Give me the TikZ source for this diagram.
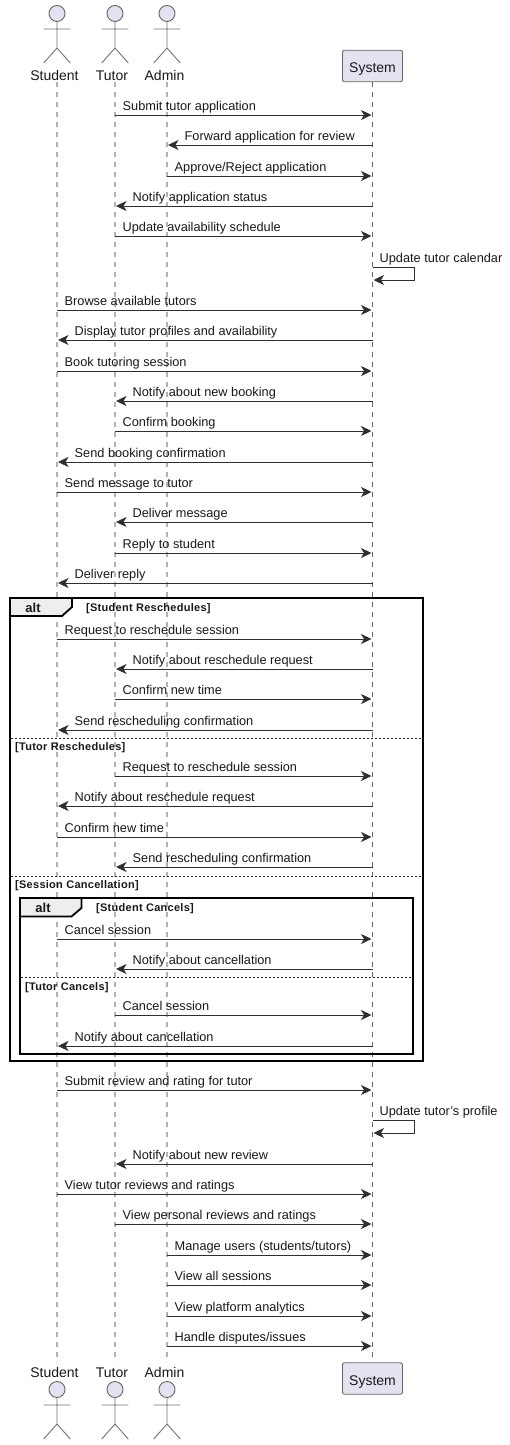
\documentclass[tikz,border=0pt]{standalone}
\usepackage{fontspec}
\setmainfont{Liberation Sans}
\usetikzlibrary{arrows.meta}
\definecolor{ink}{HTML}{181818}
\definecolor{actorfill}{HTML}{E2E2F0}
\definecolor{tabfill}{HTML}{EEEEEE}
\tikzset{
  life/.style={draw=black!30,line width=1.2pt,dash pattern=on 5pt off 5pt},
  lifesys/.style={draw=black!60,line width=0.8pt,dash pattern=on 5pt off 5pt},
  msgline/.style={draw=ink!90,line width=0.9pt,-{Stealth[length=10.5pt,width=10pt,inset=3pt]},shorten >=1pt},
  lbl/.style={font=\fontsize{12.75}{15}\selectfont,text=black!90,inner sep=0pt,anchor=base west},
  actorname/.style={font=\fontsize{14}{16}\selectfont,text=black!90,inner sep=0pt,anchor=center},
  limb/.style={draw=black!55,line width=0.9pt},
  head/.style={circle,draw=black!60,fill=actorfill,line width=0.9pt,minimum size=16pt,inner sep=0pt},
  sysbox/.style={draw=black!60,fill=actorfill,line width=0.9pt,rounded corners=2pt,minimum width=60pt,minimum height=31.5pt,inner sep=0pt,text height=13pt,text depth=0pt,font=\fontsize{14}{16}\selectfont,text=black!90},
  frameline/.style={draw=black,line width=1.8pt},
  tab/.style={draw=black,fill=tabfill,line width=1.8pt},
  divider/.style={draw=black!85,line width=1pt,dash pattern=on 2pt off 2pt},
  guard/.style={font=\bfseries\fontsize{11}{13}\selectfont\addfontfeature{LetterSpace=2.5},text=black!90,inner sep=0pt,anchor=base west},
  alttext/.style={font=\bfseries\fontsize{13}{15}\selectfont,text=black!90,inner sep=0pt,anchor=center},
}
\newcommand{\msgr}[4]{% from, to, y, text : arrow to the right
  \draw[msgline] (#1 |- 0,#3) -- (#2 |- 0,#3);
  \path (#1 |- 0,#3) ++(7.5,-4.6) node[lbl] (t#3) {#4};}
\newcommand{\msgl}[4]{% from, to, y, text : arrow to the left
  \draw[msgline] (#1 |- 0,#3) -- (#2 |- 0,#3);
  \path (#2 |- 0,#3) ++(17.5,-4.6) node[lbl] (t#3) {#4};}
\newcommand{\msgself}[3]{% y top, y bottom, text
  \coordinate (sa#1) at (System |- 0,#1);
  \coordinate (sb#1) at (System |- 0,#2);
  \draw[msgline] (sa#1) -- ++(41.5,0) |- (sb#1);
  \path (sa#1) ++(7,-4.6) node[lbl] (t#1) {#3};}
\newcommand{\actorfig}[3]{% name, x, y of head centre
  \node[head] (h#1) at (#2,#3) {};
  \coordinate (la#1) at (#2-13.3,#3+15.5);
  \coordinate (ra#1) at (#2+13.3,#3+15.5);
  \coordinate (lf#1) at (#2-13.3,#3+49.5);
  \coordinate (rf#1) at (#2+13.3,#3+49.5);
  \coordinate (hp#1) at (#2,#3+34.5);
  \draw[limb] (h#1) -- (hp#1) (la#1) -- (ra#1) (lf#1) -- (hp#1) -- (rf#1);}
\begin{document}
\begin{tikzpicture}[x=1pt,y=-1pt]
\path[use as bounding box,fill=white] (0,0) rectangle (510,1445);
% lifeline anchors
\coordinate (Student) at (57,82);
\coordinate (Tutor) at (115,82);
\coordinate (Admin) at (167,82);
\coordinate (System) at (372.5,82);
\coordinate (StudentEnd) at (57,1362);
\coordinate (TutorEnd) at (115,1362);
\coordinate (AdminEnd) at (167,1362);
\coordinate (SystemEnd) at (372.5,1362);
\draw[life] (Student) -- (StudentEnd);
\draw[life] (Tutor) -- (TutorEnd);
\draw[life] (Admin) -- (AdminEnd);
\draw[lifesys] (System) -- (SystemEnd);
% actors, top
\actorfig{StudentA}{57}{13.5}
\actorfig{TutorA}{115}{13.5}
\actorfig{AdminA}{167}{13.5}
\node[actorname] (nsa) at (54.5,75.5) {Student};
\node[actorname] (nta) at (112,75.5) {Tutor};
\node[actorname] (naa) at (164.5,75.5) {Admin};
\node[sysbox] (sysA) at (372.5,66) {System};
% actors, bottom
\actorfig{StudentB}{57}{1389.5}
\actorfig{TutorB}{115}{1389.5}
\actorfig{AdminB}{167}{1389.5}
\node[actorname] (nsb) at (54.5,1372.5) {Student};
\node[actorname] (ntb) at (112,1372.5) {Tutor};
\node[actorname] (nab) at (164.5,1372.5) {Admin};
\node[sysbox] (sysB) at (372.5,1378.5) {System};
% frames
\draw[frameline] (10,598) rectangle (423,1061);
\draw[tab] (10,598) -- (72,598) -- (72,607) -- (62,616) -- (10,616) -- cycle;
\node[alttext] (alt1) at (33,608) {alt};
\node[guard] (g1) at (86,611) {[Student Reschedules]};
\draw[divider] (11,738) -- (422,738);
\node[guard] (g2) at (15,750) {[Tutor Reschedules]};
\draw[divider] (11,876) -- (422,876);
\node[guard] (g3) at (15,888) {[Session Cancellation]};
\draw[frameline] (20,898) rectangle (413,1054);
\draw[tab] (20,898) -- (81.5,898) -- (81.5,908) -- (71.5,916.5) -- (20,916.5) -- cycle;
\node[alttext] (alt2) at (43,908) {alt};
\node[guard] (g4) at (96,911) {[Student Cancels]};
\draw[divider] (21,977.5) -- (412,977.5);
\node[guard] (g5) at (25,990) {[Tutor Cancels]};
% messages
\msgr{Tutor}{System}{115}{Submit tutor application}
\msgl{System}{Admin}{145}{Forward application for review}
\msgr{Admin}{System}{176}{Approve/Reject application}
\msgl{System}{Tutor}{206}{Notify application status}
\msgr{Tutor}{System}{236}{Update availability schedule}
\msgself{267}{280}{Update tutor calendar}
\msgr{Student}{System}{310}{Browse available tutors}
\msgl{System}{Student}{340}{Display tutor profiles and availability}
\msgr{Student}{System}{371}{Book tutoring session}
\msgl{System}{Tutor}{401}{Notify about new booking}
\msgr{Tutor}{System}{431}{Confirm booking}
\msgl{System}{Student}{462}{Send booking confirmation}
\msgr{Student}{System}{492}{Send message to tutor}
\msgl{System}{Tutor}{522}{Deliver message}
\msgr{Tutor}{System}{553}{Reply to student}
\msgl{System}{Student}{583}{Deliver reply}
\msgr{Student}{System}{639}{Request to reschedule session}
\msgl{System}{Tutor}{669}{Notify about reschedule request}
\msgr{Tutor}{System}{699}{Confirm new time}
\msgl{System}{Student}{730}{Send rescheduling confirmation}
\msgr{Tutor}{System}{776}{Request to reschedule session}
\msgl{System}{Student}{806}{Notify about reschedule request}
\msgr{Student}{System}{837}{Confirm new time}
\msgl{System}{Tutor}{867}{Send rescheduling confirmation}
\msgr{Student}{System}{939}{Cancel session}
\msgl{System}{Tutor}{969}{Notify about cancellation}
\msgr{Tutor}{System}{1015}{Cancel session}
\msgl{System}{Student}{1046}{Notify about cancellation}
\msgr{Student}{System}{1090}{Submit review and rating for tutor}
\msgself{1120}{1133}{Update tutor's profile}
\msgl{System}{Tutor}{1164}{Notify about new review}
\msgr{Student}{System}{1194}{View tutor reviews and ratings}
\msgr{Tutor}{System}{1224}{View personal reviews and ratings}
\msgr{Admin}{System}{1255}{Manage users (students/tutors)}
\msgr{Admin}{System}{1285}{View all sessions}
\msgr{Admin}{System}{1316}{View platform analytics}
\msgr{Admin}{System}{1346}{Handle disputes/issues}
\end{tikzpicture}
\end{document}
